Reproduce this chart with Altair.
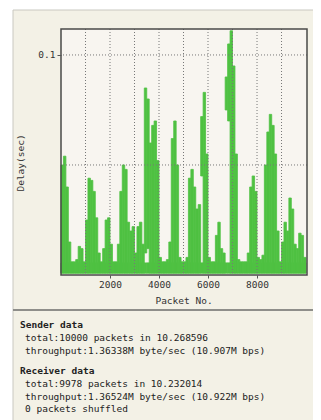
import altair as alt
import pandas as pd

# ---------------- data ----------------
# packet bins of 100 packets each (bin start)
bin_start = list(range(0, 10000, 100))

# top of the delay band in each bin (seconds)
delay_hi = [
    0.050, 0.054, 0.040, 0.015, 0.006, 0.006, 0.007, 0.013, 0.012, 0.006,
    0.025, 0.044, 0.043, 0.038, 0.026, 0.010, 0.006, 0.012, 0.025, 0.026,
    0.014, 0.006, 0.006, 0.014, 0.038, 0.050, 0.048, 0.024, 0.020, 0.022,
    0.010, 0.022, 0.024, 0.014, 0.085, 0.080, 0.060, 0.068, 0.070, 0.052,
    0.008, 0.006, 0.006, 0.007, 0.015, 0.062, 0.070, 0.050, 0.008, 0.006,
    0.006, 0.008, 0.044, 0.048, 0.040, 0.030, 0.032, 0.072, 0.083, 0.055,
    0.008, 0.006, 0.006, 0.018, 0.024, 0.012, 0.010, 0.090, 0.105, 0.111,
    0.095, 0.055, 0.007, 0.006, 0.006, 0.006, 0.010, 0.040, 0.045, 0.038,
    0.008, 0.007, 0.009, 0.050, 0.065, 0.073, 0.068, 0.055, 0.020, 0.006,
    0.015, 0.024, 0.020, 0.035, 0.030, 0.014, 0.012, 0.019, 0.018, 0.008,
]

# bottom of the delay band in each bin (seconds)
delay_lo = [
    0.001, 0.001, 0.001, 0.001, 0.001, 0.001, 0.001, 0.001, 0.001, 0.001,
    0.001, 0.001, 0.001, 0.001, 0.001, 0.001, 0.001, 0.001, 0.001, 0.001,
    0.001, 0.001, 0.001, 0.001, 0.001, 0.001, 0.001, 0.001, 0.001, 0.001,
    0.001, 0.001, 0.001, 0.001, 0.010, 0.012, 0.001, 0.001, 0.001, 0.001,
    0.001, 0.001, 0.001, 0.001, 0.001, 0.001, 0.001, 0.001, 0.001, 0.001,
    0.001, 0.001, 0.001, 0.001, 0.001, 0.001, 0.001, 0.045, 0.001, 0.001,
    0.001, 0.001, 0.001, 0.001, 0.001, 0.001, 0.001, 0.075, 0.070, 0.001,
    0.001, 0.001, 0.001, 0.001, 0.001, 0.001, 0.001, 0.001, 0.001, 0.001,
    0.001, 0.001, 0.001, 0.001, 0.001, 0.001, 0.001, 0.001, 0.001, 0.001,
    0.001, 0.001, 0.001, 0.001, 0.001, 0.001, 0.001, 0.001, 0.001, 0.001,
]

baseline_lo = 0.0008
baseline_hi = 0.0055

x_grid = [1000, 2000, 3000, 4000, 5000, 6000, 7000, 8000, 9000]
y_grid = [0.05, 0.1]
x_ticks = [2000, 4000, 6000, 8000]
y_ticks = [0.1]

x_title = "Packet No."
y_title = "Delay(sec)"

info_lines = [
    "Sender data",
    "total:10000 packets in 10.268596",
    "throughput:1.36338M byte/sec (10.907M bps)",
    "Receiver data",
    "total:9978 packets in 10.232014",
    "throughput:1.36524M byte/sec (10.922M bps)",
    "0 packets shuffled",
]
info_bold = [True, False, False, True, False, False, False]

# ---------------- layout / style ----------------
W, H = 246, 246
FONT = "DejaVu Sans Mono"
GREEN = "#4fc142"

bins = pd.DataFrame({
    "start": bin_start,
    "end": [b + 100 for b in bin_start],
    "lo": delay_lo,
    "hi": delay_hi,
})
bins["base_lo"] = baseline_lo
bins["base_hi"] = baseline_hi

xscale = alt.Scale(domain=[0, 10040], nice=False, zero=False)
yscale = alt.Scale(domain=[0, 0.1118], nice=False, zero=False)

x_axis = alt.Axis(values=x_ticks, format="d", title=None, grid=False, domain=False,
                  tickSize=3, tickColor="#555", labelFont=FONT, labelFontSize=9.5,
                  labelColor="#333", labelPadding=1, zindex=2)
y_axis = alt.Axis(values=y_ticks, format=".1f", title=None, grid=False, domain=False,
                  tickSize=4, tickColor="#555", labelFont=FONT, labelFontSize=9.5,
                  labelColor="#333", labelPadding=2, zindex=2)

one = pd.DataFrame({"k": [0]})

panel = alt.Chart(one).mark_rect(fill="#f3f1e6", stroke="#c9c8c0", strokeWidth=1).encode(
    x=alt.value(-48), x2=alt.value(270), y=alt.value(-19), y2=alt.value(410))

plot_bg = alt.Chart(one).mark_rect(fill="#f8f5f0").encode(
    x=alt.value(0), x2=alt.value(W), y=alt.value(0), y2=alt.value(H))

base = alt.Chart(bins).mark_rect(fill=GREEN, stroke=GREEN, strokeWidth=0.8).encode(
    x=alt.X("start:Q", scale=xscale, axis=x_axis),
    x2="end:Q",
    y=alt.Y("base_lo:Q", scale=yscale, axis=y_axis),
    y2="base_hi:Q",
)

band = alt.Chart(bins).mark_rect(fill=GREEN, stroke=GREEN, strokeWidth=0.8).encode(
    x=alt.X("start:Q", scale=xscale, axis=x_axis),
    x2="end:Q",
    y=alt.Y("lo:Q", scale=yscale, axis=y_axis),
    y2="hi:Q",
)

vgrid = alt.Chart(pd.DataFrame({"g": x_grid})).mark_rule(
    color="#777", strokeDash=[1, 2], strokeWidth=1).encode(
    x=alt.X("g:Q", scale=xscale, axis=x_axis))

hgrid = alt.Chart(pd.DataFrame({"g": y_grid})).mark_rule(
    color="#777", strokeDash=[1, 2], strokeWidth=1).encode(
    y=alt.Y("g:Q", scale=yscale, axis=y_axis))

frame = alt.Chart(one).mark_rect(fillOpacity=0, stroke="#4a4a48", strokeWidth=1.5).encode(
    x=alt.value(0), x2=alt.value(W), y=alt.value(0), y2=alt.value(H))

separator = alt.Chart(one).mark_rule(color="#8e8e8a", strokeWidth=2).encode(
    x=alt.value(-48), x2=alt.value(270), y=alt.value(281))

xt = alt.Chart(one).mark_text(font=FONT, fontSize=9.5, color="#333",
                              align="center", baseline="middle").encode(
    x=alt.value(W / 2), y=alt.value(272), text=alt.value(x_title))

yt = alt.Chart(one).mark_text(font=FONT, fontSize=9.5, color="#333", angle=270,
                              align="center", baseline="middle").encode(
    x=alt.value(-40), y=alt.value(134), text=alt.value(y_title))

line_y = [296, 309, 322, 342, 355, 368, 380]
info_layers = []
for txt, bold, yy in zip(info_lines, info_bold, line_y):
    info_layers.append(
        alt.Chart(one).mark_text(font=FONT, fontSize=9.5, color="#222",
                                 fontWeight="bold" if bold else "normal",
                                 align="left", baseline="middle").encode(
            x=alt.value(-41 if bold else -36), y=alt.value(yy), text=alt.value(txt))
    )

chart = alt.layer(
    panel, plot_bg, base, band, vgrid, hgrid, frame, separator, xt, yt, *info_layers
).properties(
    width=W, height=H,
    autosize=alt.AutoSizeParams(type="none"),
    padding={"left": 53, "top": 21, "right": 6, "bottom": 145},
).configure_view(strokeWidth=0)

chart.save("out.html", embed_options={"renderer": "svg", "actions": False})
